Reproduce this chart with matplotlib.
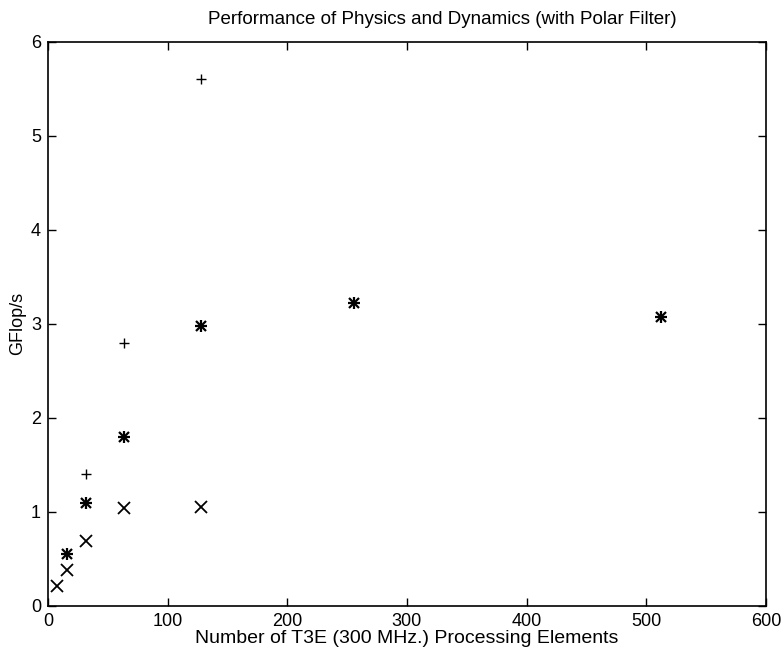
import matplotlib
matplotlib.use("Agg")
import matplotlib.pyplot as plt

plt.rcParams['font.family'] = ['Liberation Sans', 'DejaVu Sans']

# physics + dynamics (plus markers)
pe_plus = [32, 64, 128]
gflops_plus = [1.40, 2.80, 5.60]

# star markers
pe_star = [16, 32, 64, 128, 256, 512]
gflops_star = [0.55, 1.10, 1.80, 2.98, 3.22, 3.07]

# x markers
pe_x = [8, 16, 32, 64, 128]
gflops_x = [0.21, 0.38, 0.69, 1.04, 1.05]

x_ticks = [0, 100, 200, 300, 400, 500, 600]
y_ticks = [0, 1, 2, 3, 4, 5, 6]

fig = plt.figure(figsize=(7.84, 6.53), dpi=100)
ax = fig.add_axes([0.061, 0.072, 0.916, 0.864])

ax.plot(pe_plus, gflops_plus, linestyle='none', marker='+', color='black',
        markersize=7, markeredgewidth=1.0)
# MATLAB '*' marker = plus and cross drawn together
ax.plot(pe_star, gflops_star, linestyle='none', marker='+', color='black',
        markersize=9, markeredgewidth=1.6)
ax.plot(pe_star, gflops_star, linestyle='none', marker='x', color='black',
        markersize=7, markeredgewidth=1.6)
ax.plot(pe_x, gflops_x, linestyle='none', marker='x', color='black',
        markersize=9, markeredgewidth=1.3)

ax.set_xlim(0, 600)
ax.set_ylim(0, 6)
ax.set_xticks(x_ticks)
ax.set_yticks(y_ticks)
ax.tick_params(direction='in', top=True, right=True, length=6, width=1.0,
               labelsize=13, pad=5)
for spine in ax.spines.values():
    spine.set_linewidth(1.2)

ax.set_xlabel("Number of T3E (300 MHz.) Processing Elements", fontsize=14, labelpad=0)
ax.set_ylabel("GFlop/s", fontsize=13, labelpad=3)
ax.set_title("Performance of Physics and Dynamics (with Polar Filter)",
             fontsize=13.5, pad=13, x=0.55)

fig.savefig("out.png", dpi=100)
